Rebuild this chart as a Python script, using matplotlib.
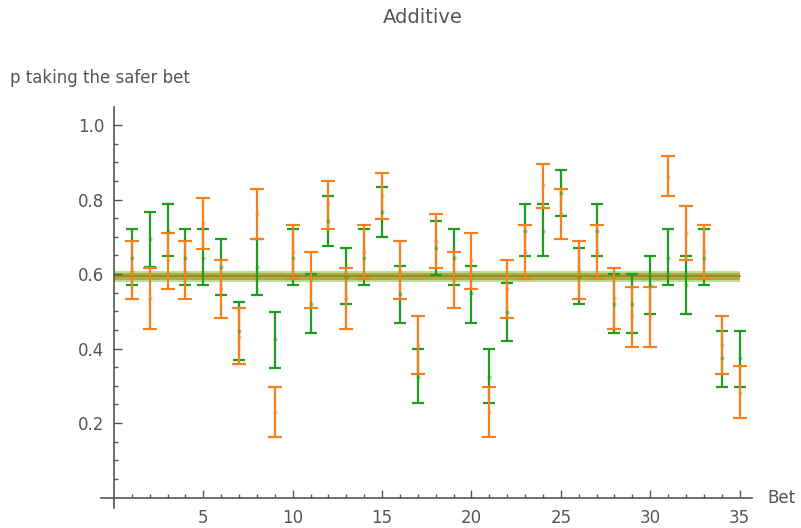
import numpy as np
import matplotlib.pyplot as plt

plt.rcParams['font.family'] = ['DejaVu Sans']

bets = np.arange(1, 36)

# green series: centre, upper and lower end of the error bar
green_mid = [0.644, 0.693, 0.716, 0.644, 0.644, 0.620, 0.447, 0.620, 0.425, 0.642,
             0.520, 0.743, 0.593, 0.642, 0.766, 0.547, 0.324, 0.671, 0.644, 0.548,
             0.324, 0.497, 0.716, 0.716, 0.817, 0.593, 0.716, 0.520, 0.520, 0.571,
             0.644, 0.571, 0.644, 0.375, 0.375]
green_hi = [0.721, 0.767, 0.788, 0.721, 0.721, 0.693, 0.526, 0.693, 0.497, 0.721,
            0.599, 0.810, 0.671, 0.721, 0.833, 0.621, 0.398, 0.743, 0.721, 0.621,
            0.398, 0.577, 0.788, 0.788, 0.878, 0.671, 0.788, 0.599, 0.599, 0.648,
            0.721, 0.648, 0.721, 0.447, 0.447]
green_lo = [0.571, 0.620, 0.648, 0.571, 0.571, 0.543, 0.369, 0.543, 0.347, 0.571,
            0.443, 0.676, 0.520, 0.571, 0.699, 0.469, 0.253, 0.598, 0.571, 0.469,
            0.253, 0.420, 0.648, 0.648, 0.755, 0.520, 0.648, 0.443, 0.443, 0.493,
            0.571, 0.493, 0.571, 0.298, 0.298]

# orange series
orange_mid = [0.609, 0.537, 0.638, 0.609, 0.738, 0.559, 0.432, 0.760, 0.230, 0.660,
              0.587, 0.788, 0.537, 0.660, 0.810, 0.609, 0.409, 0.689, 0.587, 0.638,
              0.230, 0.559, 0.659, 0.839, 0.760, 0.609, 0.659, 0.537, 0.487, 0.487,
              0.861, 0.709, 0.659, 0.409, 0.280]
orange_hi = [0.689, 0.615, 0.711, 0.689, 0.805, 0.638, 0.510, 0.827, 0.298, 0.733,
             0.660, 0.850, 0.615, 0.733, 0.872, 0.689, 0.487, 0.761, 0.660, 0.710,
             0.298, 0.638, 0.733, 0.895, 0.827, 0.689, 0.733, 0.615, 0.566, 0.566,
             0.917, 0.783, 0.733, 0.487, 0.353]
orange_lo = [0.532, 0.453, 0.559, 0.532, 0.666, 0.481, 0.358, 0.693, 0.163, 0.588,
             0.510, 0.721, 0.453, 0.588, 0.749, 0.532, 0.331, 0.615, 0.510, 0.559,
             0.163, 0.482, 0.588, 0.776, 0.693, 0.532, 0.588, 0.453, 0.403, 0.403,
             0.810, 0.638, 0.588, 0.331, 0.214]

# overall mean with its confidence band for each series
green_band = (0.579, 0.594, 0.608)
orange_band = (0.584, 0.593, 0.602)

green = '#1e9e1e'
orange = '#f7801e'
text_col = '#555555'

fig = plt.figure(figsize=(8.01, 5.28), dpi=100)
ax = fig.add_axes([0.126, 0.038, 0.813, 0.759])

band_x = [0, 35]
ax.fill_between(band_x, green_band[0], green_band[2], color='#7cc242', alpha=0.55, lw=0, zorder=1)
ax.fill_between(band_x, orange_band[0], orange_band[2], color='#b39a2a', alpha=0.75, lw=0, zorder=1)
ax.plot(band_x, [green_band[1]] * 2, color='#8a8a20', lw=1.2, zorder=1)

def draw_series(mid, hi, lo, col, cap):
    mid = np.array(mid)
    err = [mid - np.array(lo), np.array(hi) - mid]
    ax.errorbar(bets, mid, yerr=err, fmt='none', ecolor=col, elinewidth=1.6,
                capsize=cap, capthick=1.6, zorder=3)
    ax.plot(bets, mid, ls='none', marker='o', ms=3, color=col, alpha=0.45, mec='none', zorder=4)

draw_series(green_mid, green_hi, green_lo, green, 4)
draw_series(orange_mid, orange_hi, orange_lo, orange, 5)

ax.set_xlim(-0.73, 35.7)
ax.set_ylim(-0.028, 1.048)

for side in ['top', 'right']:
    ax.spines[side].set_visible(False)
ax.spines['left'].set_position(('data', 0))
ax.spines['bottom'].set_position(('data', 0))
for side in ['left', 'bottom']:
    ax.spines[side].set_color('#555555')
    ax.spines[side].set_linewidth(1.2)

ax.set_xticks([5, 10, 15, 20, 25, 30, 35])
ax.set_xticks(np.arange(1, 36), minor=True)
ax.set_yticks([0.2, 0.4, 0.6, 0.8, 1.0])
ax.set_yticks(np.arange(0.05, 1.01, 0.05), minor=True)
ax.set_yticklabels(['0.2', '0.4', '0.6', '0.8', '1.0'])
ax.tick_params(which='both', direction='in', color='#555555', width=1)
ax.tick_params(which='major', length=6, labelsize=12, labelcolor=text_col)
ax.tick_params(which='minor', length=3)
ax.tick_params(axis='x', which='major', pad=8)
ax.tick_params(axis='y', which='major', pad=7)

fig.text(0.528, 0.966, 'Additive', ha='center', va='center', fontsize=14, color=text_col)
fig.text(0.012, 0.852, 'p taking the safer bet', ha='left', va='center', fontsize=12, color=text_col)
fig.text(0.958, 0.057, 'Bet', ha='left', va='center', fontsize=12, color=text_col)

fig.savefig('out.png', dpi=100)
